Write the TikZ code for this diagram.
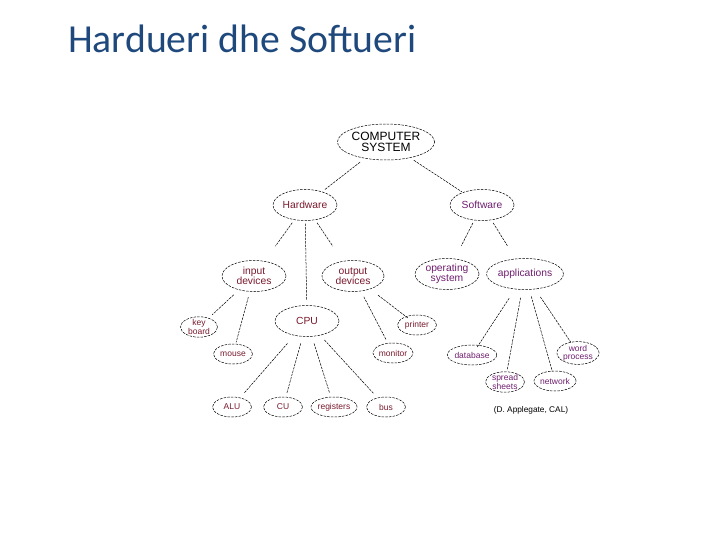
\documentclass[tikz,border=0pt]{standalone}
\usepackage{fontspec}
\setmainfont{Liberation Sans}
\newfontfamily\titlefont{Carlito}
\usetikzlibrary{shapes.geometric,calc}
\definecolor{titleblue}{HTML}{1F497D}
\definecolor{hwcol}{RGB}{120,25,45}
\definecolor{swcol}{RGB}{110,30,110}
\tikzset{
  ell/.style={ellipse, draw, line width=0.5pt, dash pattern=on 2.5pt off 1.2pt, inner sep=0pt, align=center},
  big/.style={ell, minimum width=64pt, minimum height=31pt, font=\fontsize{10.3}{9.8}\selectfont},
  small/.style={ell, minimum width=39pt, minimum height=20pt, font=\fontsize{8.5}{8.2}\selectfont},
  hw/.style={text=hwcol},
  sw/.style={text=swcol},
  conn/.style={line width=0.5pt, dash pattern=on 2.5pt off 1pt},
}
\begin{document}
\begin{tikzpicture}[x=1pt,y=-1pt]
\useasboundingbox (0,0) rectangle (720,540);
\node[anchor=base west, text=titleblue, font=\titlefont\fontsize{39.7}{42}\selectfont, inner sep=0pt] (title) at (68,53) {Hardueri dhe Softueri};

\node[ell, minimum width=90pt, minimum height=36pt, font=\fontsize{12}{11.2}\selectfont] (cs) at (386,142) {COMPUTER\\SYSTEM};
\node[big, hw] (hwn) at (305,205) {Hardware};
\node[big, sw] (swn) at (482,205) {Software};
\node[big, hw] (in) at (254,276) {input\\devices};
\node[big, hw, minimum width=62pt] (out) at (353,276) {output\\devices};
\node[big, sw] (os) at (447,274) {operating\\system};
\node[big, sw, minimum width=66pt] (app) at (525,274) {applications};
\node[small, hw, minimum width=37pt] (kb) at (199,327) {key\\board};
\node[big, hw] (cpu) at (307,321) {CPU};
\node[small, hw] (pr) at (417,325) {printer};
\node[small, hw] (mo) at (233,354) {mouse};
\node[small, hw] (mon) at (393,353) {monitor};
\node[small, sw] (db) at (472,355) {database};
\node[small, sw] (wp) at (578,353) {word\\process};
\node[small, sw] (ss) at (505,382) {spread\\sheets};
\node[small, sw] (net) at (555,381) {network};
\node[small, hw] (alu) at (232,407) {ALU};
\node[small, hw] (cu) at (283,407) {CU};
\node[small, hw] (reg) at (334,407) {registers};
\node[small, hw] (bus) at (386,407) {bus};
\node[font=\fontsize{8.3}{9}\selectfont, inner sep=0pt] (cite) at (531,410) {(D. Applegate, CAL)};

\draw[conn] ($(cs)!0.32!(hwn)$) -- ($(cs)!0.76!(hwn)$);
\draw[conn] ($(cs)!0.29!(swn)$) -- ($(cs)!0.79!(swn)$);
\draw[conn] ($(hwn)!0.25!(in)$) -- ($(hwn)!0.58!(in)$);
\draw[conn] ($(hwn)!0.16!(cpu)$) -- ($(hwn)!0.82!(cpu)$);
\draw[conn] ($(hwn)!0.25!(out)$) -- ($(hwn)!0.58!(out)$);
\draw[conn] ($(swn)!0.26!(os)$) -- ($(swn)!0.59!(os)$);
\draw[conn] ($(swn)!0.26!(app)$) -- ($(swn)!0.59!(app)$);
\draw[conn] ($(in)!0.37!(kb)$) -- ($(in)!0.76!(kb)$);
\draw[conn] ($(in)!0.27!(mo)$) -- ($(in)!0.85!(mo)$);
\draw[conn] ($(out)!0.39!(pr)$) -- ($(out)!0.86!(pr)$);
\draw[conn] ($(out)!0.27!(mon)$) -- ($(out)!0.83!(mon)$);
\draw[conn] ($(app)!0.30!(db)$) -- ($(app)!0.90!(db)$);
\draw[conn] ($(app)!0.22!(ss)$) -- ($(app)!0.89!(ss)$);
\draw[conn] ($(app)!0.21!(net)$) -- ($(app)!0.91!(net)$);
\draw[conn] ($(app)!0.29!(wp)$) -- ($(app)!0.86!(wp)$);
\draw[conn] ($(cpu)!0.26!(alu)$) -- ($(cpu)!0.84!(alu)$);
\draw[conn] ($(cpu)!0.26!(cu)$) -- ($(cpu)!0.84!(cu)$);
\draw[conn] ($(cpu)!0.26!(reg)$) -- ($(cpu)!0.84!(reg)$);
\draw[conn] ($(cpu)!0.22!(bus)$) -- ($(cpu)!0.84!(bus)$);
\end{tikzpicture}
\end{document}
